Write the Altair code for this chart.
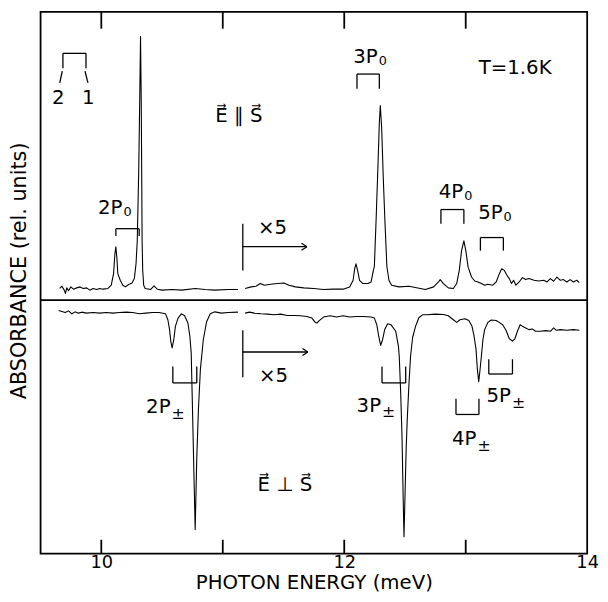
import altair as alt
import pandas as pd

# ---------------- spectra (photon energy in meV, absorbance in rel. units) -------------
# E || S spectrum, left of the x5 break
par_left = [(9.657,1.17),(9.676,1.40),(9.695,1.00),(9.705,0.67),(9.716,1.23),(9.730,0.93),(9.749,1.33),
            (9.771,1.10),(9.798,1.23),(9.825,1.33),(9.852,1.17),(9.879,1.23),(9.906,1.00),(9.933,1.17),
            (9.961,1.07),(9.987,1.17),(10.014,1.10),(10.055,1.17),(10.082,1.50),(10.101,2.67),(10.112,4.67),
            (10.120,5.40),(10.128,4.33),(10.136,2.67),(10.156,2.00),(10.177,1.50),(10.199,1.33),(10.225,1.57),
            (10.253,1.73),(10.272,2.17),(10.286,3.67),(10.296,6.00),(10.308,13.0),(10.316,20.0),(10.323,26.7),
            (10.329,20.0),(10.333,12.0),(10.336,6.0),(10.341,3.0),(10.349,1.5),(10.361,1.17),(10.407,1.07),
            (10.434,1.43),(10.461,1.10),(10.502,1.00),(10.583,1.07),(10.664,1.00),(10.773,1.17),(10.854,1.07),
            (10.935,1.00),(11.043,1.07),(11.125,1.07)]
# E || S spectrum, right of the break (x5)
par_right = [(11.184,1.17),(11.233,1.33),(11.273,1.40),(11.309,1.67),(11.342,1.50),(11.395,1.60),(11.450,1.67),
             (11.504,1.73),(11.545,1.50),(11.598,1.33),(11.667,1.23),(11.748,1.17),(11.829,1.07),(11.910,1.10),
             (11.991,1.10),(12.045,1.33),(12.073,2.00),(12.086,3.17),(12.097,3.67),(12.110,3.00),(12.126,2.00),
             (12.154,1.67),(12.195,1.67),(12.221,1.83),(12.240,3.00),(12.248,3.40),(12.262,8.0),(12.276,13.0),
             (12.289,18.0),(12.297,19.7),(12.308,17.5),(12.321,12.5),(12.335,8.0),(12.351,3.4),(12.368,2.0),
             (12.390,1.5),(12.451,1.33),(12.533,1.40),(12.668,1.07),(12.736,1.33),(12.776,1.83),(12.790,2.07),
             (12.817,1.67),(12.857,1.23),(12.898,1.17),(12.926,1.67),(12.947,3.0),(12.966,5.0),(12.985,6.0),
             (13.001,5.0),(13.020,3.33),(13.048,2.33),(13.074,1.93),(13.101,1.83),(13.129,1.67),(13.156,1.50),
             (13.182,1.60),(13.223,1.50),(13.251,1.83),(13.277,2.67),(13.296,3.17),(13.318,3.00),(13.340,2.50),
             (13.359,2.17),(13.377,1.67),(13.394,2.00),(13.413,1.50),(13.440,1.83),(13.467,2.27),(13.494,2.07),
             (13.521,2.17),(13.562,2.00),(13.602,1.93),(13.643,2.00),(13.670,1.83),(13.697,2.17),(13.724,1.90),
             (13.751,2.33),(13.779,2.00),(13.805,2.07),(13.832,1.83),(13.860,2.07),(13.887,1.83),(13.914,2.00),
             (13.935,1.77)]
# E _|_ S spectrum (drawn downward), left of the break
perp_left = [(9.649,-1.07),(9.676,-1.17),(9.703,-1.27),(9.730,-1.10),(9.758,-1.40),(9.784,-1.20),(9.811,-1.33),
             (9.839,-1.23),(9.879,-1.33),(9.933,-1.27),(9.987,-1.33),(10.042,-1.27),(10.095,-1.33),(10.150,-1.27),
             (10.204,-1.23),(10.258,-1.27),(10.312,-1.40),(10.367,-1.33),(10.420,-1.27),(10.475,-1.27),(10.529,-1.40),
             (10.548,-2.0),(10.562,-3.0),(10.572,-4.17),(10.583,-4.85),(10.597,-4.0),(10.610,-2.67),(10.632,-1.83),
             (10.659,-1.40),(10.686,-1.60),(10.713,-2.33),(10.729,-3.67),(10.740,-5.33),(10.747,-9.0),(10.759,-15.6),
             (10.773,-23.27),(10.786,-16.0),(10.800,-11.0),(10.816,-7.0),(10.840,-4.0),(10.867,-2.2),(10.897,-1.4),
             (10.935,-1.2),(10.989,-1.33),(11.043,-1.27),(11.125,-1.23)]
# E _|_ S spectrum, right of the break (x5)
perp_right = [(11.184,-1.33),(11.220,-1.23),(11.260,-1.33),(11.314,-1.40),(11.368,-1.43),(11.423,-1.50),(11.476,-1.43),
              (11.531,-1.57),(11.585,-1.57),(11.639,-1.60),(11.693,-1.67),(11.734,-1.83),(11.761,-2.27),(11.775,-2.33),
              (11.797,-2.07),(11.829,-1.73),(11.883,-1.60),(11.937,-1.73),(11.991,-1.60),(12.045,-1.73),(12.100,-1.67),
              (12.154,-1.67),(12.221,-1.73),(12.248,-1.83),(12.268,-2.50),(12.284,-3.67),(12.300,-4.60),(12.316,-4.00),
              (12.333,-3.00),(12.357,-2.40),(12.384,-2.50),(12.424,-3.17),(12.446,-4.67),(12.453,-5.70),(12.465,-9.5),
              (12.476,-14.0),(12.485,-20.0),(12.492,-24.0),(12.500,-20.0),(12.510,-15.0),(12.519,-12.0),(12.533,-8.5),
              (12.546,-5.7),(12.563,-3.8),(12.587,-2.67),(12.614,-1.80),(12.644,-1.50),(12.682,-1.50),(12.749,-1.43),
              (12.817,-1.47),(12.857,-1.60),(12.898,-2.00),(12.926,-2.27),(12.953,-2.00),(12.993,-1.90),(13.026,-2.07),
              (13.052,-2.67),(13.069,-3.67),(13.085,-5.0),(13.096,-7.0),(13.107,-8.27),(13.117,-7.2),(13.129,-5.7),
              (13.142,-4.0),(13.156,-3.0),(13.182,-2.27),(13.210,-2.03),(13.251,-2.07),(13.264,-2.17),(13.304,-2.50),
              (13.332,-3.07),(13.359,-3.93),(13.385,-4.17),(13.405,-3.93),(13.426,-3.17),(13.448,-2.50),(13.467,-2.67),
              (13.494,-2.83),(13.521,-3.00),(13.548,-2.93),(13.575,-3.17),(13.616,-3.17),(13.657,-3.10),(13.697,-3.17),
              (13.724,-2.83),(13.746,-3.07),(13.779,-3.00),(13.832,-3.07),(13.887,-3.00),(13.935,-3.07)]

# ---------------- axes ----------------
x_domain = [9.5, 14.0]
y_domain = [-25.7, 29.2]
x_labels = [10, 12, 14]
inner_ticks = [10, 11, 12, 13]

# ---------------- doublet brackets ----------------
bracket_names = ["21", "2P0", "3P0", "4P0", "5P0", "2P±", "3P±", "4P±", "5P±"]
bracket_left  = [9.684, 10.120, 12.105, 12.796, 13.121, 10.589, 12.311, 12.920, 13.190]
bracket_right = [9.874, 10.312, 12.289, 12.985, 13.310, 10.786, 12.506, 13.109, 13.385]
bracket_bar   = [25.0, 7.23, 22.9, 9.17, 6.33, -8.4, -8.4, -11.6, -7.5]
bracket_leg   = [23.5, 6.5, 21.4, 7.73, 5.0, -6.73, -6.73, -10.0, -6.0]

# ---------------- x5 markers ----------------
gain_x = 11.165
gain_arrow_end = [11.693, 11.701]
gain_arrow_y = [5.4, -5.27]
gain_bar_top = [7.73, -3.07]
gain_bar_bottom = [3.0, -7.83]

# ---------------- labels ----------------
label_text = ["2", "1", "E\u20d7 \u2225 S\u20d7", "T=1.6K", "\u00d75", "\u00d75", "E\u20d7 \u22a5 S\u20d7"]
label_x    = [9.646, 9.892, 11.133, 13.407, 11.409, 11.417, 11.511]
label_y    = [19.83, 19.83, 18.0, 22.9, 6.7, -8.3, -19.4]

state_main = ["2P", "3P", "4P", "5P", "2P", "3P", "4P", "5P"]
state_sub  = ["0", "0", "0", "0", "±", "±", "±", "±"]
state_x    = [10.174, 12.276, 12.979, 13.304, 10.570, 12.303, 13.088, 13.372]
state_y    = [8.7, 24.0, 10.3, 8.17, -11.5, -11.3, -14.67, -10.33]

FONT = "DejaVu Sans"

# ---------------- tables ----------------
spec_rows = []
for name, pts in [("par_left", par_left), ("par_right", par_right),
                  ("perp_left", perp_left), ("perp_right", perp_right)]:
    for e, a in pts:
        spec_rows.append({"energy": e, "absorbance": a, "segment": name})
spec_df = pd.DataFrame(spec_rows)

seg_rows = []
def seg(x1, y1, x2, y2, kind="thin"):
    seg_rows.append({"energy": x1, "absorbance": y1, "energy2": x2, "absorbance2": y2, "kind": kind})

for l, r, b, g in zip(bracket_left, bracket_right, bracket_bar, bracket_leg):
    seg(l, b, r, b)
    seg(l, b, l, g)
    seg(r, b, r, g)
# slanted leaders to "2" and "1"
seg(9.679, 23.2, 9.658, 22.0)
seg(9.866, 23.2, 9.890, 22.0)
for xe, ya, yt, yb in zip(gain_arrow_end, gain_arrow_y, gain_bar_top, gain_bar_bottom):
    seg(gain_x, yt, gain_x, yb)
    seg(gain_x, ya, xe, ya)
    seg(xe - 0.045, ya + 0.35, xe, ya)
    seg(xe - 0.045, ya - 0.35, xe, ya)
for t in inner_ticks:
    seg(t, y_domain[1], t, y_domain[1] - 1.7, "frame")
    seg(t, y_domain[0], t, y_domain[0] + 1.4, "frame")
seg(x_domain[0], 0.0, x_domain[1], 0.0, "frame")
seg_df = pd.DataFrame(seg_rows)

label_df = pd.DataFrame({"energy": label_x, "absorbance": label_y, "text": label_text})
state_df = pd.DataFrame({"energy": state_x, "absorbance": state_y, "main": state_main, "sub": state_sub})

# ---------------- encodings ----------------
xs = alt.Scale(domain=x_domain, nice=False, zero=False)
ys = alt.Scale(domain=y_domain, nice=False, zero=False)
x_axis = alt.Axis(values=x_labels, grid=False, domain=False, ticks=False, labelFlush=False,
                  labelFont=FONT, labelFontSize=18, labelColor="black", labelPadding=0,
                  title="PHOTON ENERGY (meV)", titleFont=FONT, titleFontSize=20, titleFontWeight="normal",
                  titleColor="black", titleY=35, titleBaseline="alphabetic")
y_axis = alt.Axis(labels=False, grid=False, domain=False, ticks=False,
                  title="ABSORBANCE (rel. units)", titleFont=FONT, titleFontSize=21, titleFontWeight="normal",
                  titleColor="black", titleX=-21, titleY=262, titleAngle=270, titleAlign="center",
                  titleBaseline="middle")
X = alt.X("energy:Q", scale=xs, axis=x_axis)
Y = alt.Y("absorbance:Q", scale=ys, axis=y_axis)

spectra = alt.Chart(spec_df).mark_line(color="black", strokeWidth=1.1, strokeJoin="round").encode(
    x=X, y=Y, detail="segment:N", order="energy:Q")

thin_rules = alt.Chart(seg_df).transform_filter(alt.datum.kind == "thin").mark_rule(
    color="black", strokeWidth=1.3).encode(x=X, y=Y, x2="energy2:Q", y2="absorbance2:Q")
frame_rules = alt.Chart(seg_df).transform_filter(alt.datum.kind == "frame").mark_rule(
    color="black", strokeWidth=1.8).encode(x=X, y=Y, x2="energy2:Q", y2="absorbance2:Q")

labels = alt.Chart(label_df).mark_text(font=FONT, fontSize=20, color="black", align="center",
                                       baseline="alphabetic").encode(x=X, y=Y, text="text:N")
state_main_txt = alt.Chart(state_df).mark_text(font=FONT, fontSize=20, color="black", align="right",
                                               baseline="alphabetic").encode(x=X, y=Y, text="main:N")
state_sub0 = alt.Chart(state_df).transform_filter(alt.datum.sub == "0").mark_text(
    font=FONT, fontSize=13, color="black", align="left", baseline="alphabetic", dx=1, dy=2
).encode(x=X, y=Y, text="sub:N")
state_subpm = alt.Chart(state_df).transform_filter(alt.datum.sub != "0").mark_text(
    font=FONT, fontSize=16, color="black", align="left", baseline="alphabetic", dx=1, dy=6
).encode(x=X, y=Y, text="sub:N")

chart = alt.layer(spectra, thin_rules, frame_rules, labels, state_main_txt, state_sub0, state_subpm).properties(
    width=554, height=549,
    autosize=alt.AutoSizeParams(type="none"),
    padding={"left": 33, "top": 0, "right": 13, "bottom": 37},
    background="white",
).configure_view(stroke="black", strokeWidth=1.8)

chart.save("out.html", embed_options={"renderer": "svg", "actions": False})
